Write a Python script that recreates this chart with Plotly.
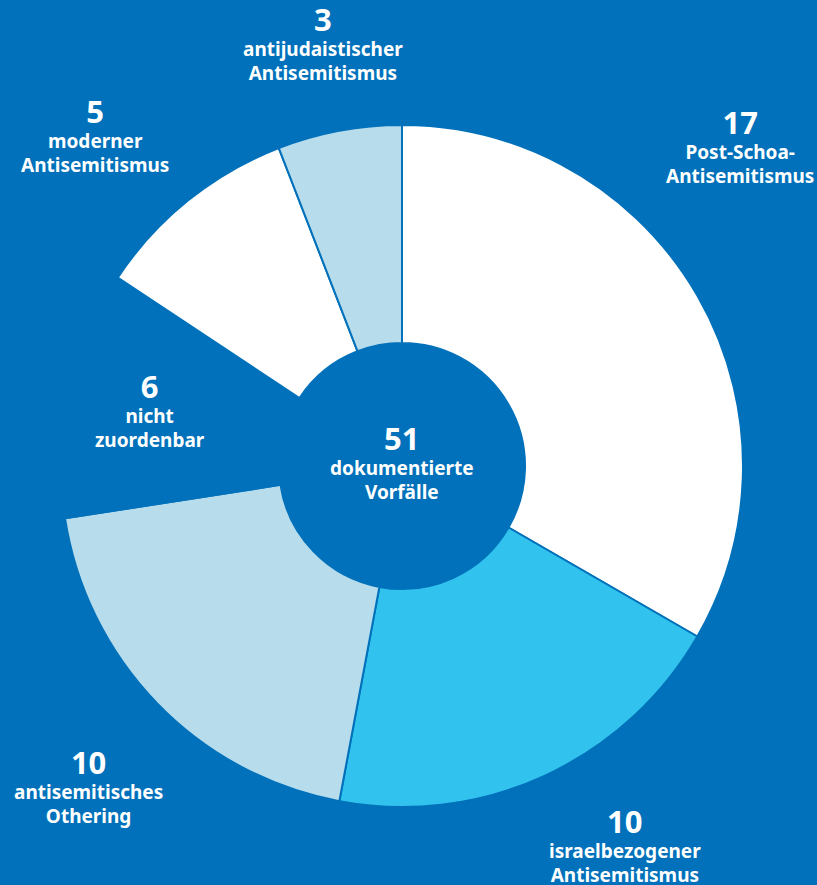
import plotly.graph_objects as go

categories = ["Post-Schoa-<br>Antisemitismus", "israelbezogener<br>Antisemitismus",
              "antisemitisches<br>Othering", "nicht<br>zuordenbar",
              "moderner<br>Antisemitismus", "antijudaistischer<br>Antisemitismus"]
values = [17, 10, 10, 6, 5, 3]
total_label = "dokumentierte<br>Vorfälle"

BG = "#0071ba"
colors = ["#ffffff", "#31c3ee", "#b7dcec", BG, "#ffffff", "#b7dcec"]

W, H = 817, 885
cx, cy, R, r_in = 402, 466, 341, 123

fig = go.Figure(go.Pie(
    values=values, labels=categories, sort=False, direction="clockwise",
    rotation=0, hole=r_in / R, textinfo="none", hoverinfo="skip",
    marker=dict(colors=colors, line=dict(color=BG, width=2)),
    domain=dict(x=[(cx - R) / W, (cx + R) / W],
                y=[(H - cy - R) / H, (H - cy + R) / H]),
    showlegend=False,
))

FONT = "Noto Sans"
# label anchor positions (pixel coords of number centre) for each category
label_pos = [(740, 124), (625, 823), (88, 764), (150, 388), (95, 113), (323, 21)]

def add_label(px, py, num, text):
    fig.add_annotation(x=px / W, y=1 - (py - 25) / H, xref="paper", yref="paper",
                       text=f"<b><span style='font-size:31px'>{num}</span><br>{text}</b>",
                       showarrow=False, xanchor="center", yanchor="top",
                       align="center",
                       font=dict(family=FONT, size=19, color="white"))

for (px, py), v, c in zip(label_pos, values, categories):
    add_label(px, py, v, c)

add_label(402, 440, sum(values), total_label)

fig.update_layout(width=W, height=H, margin=dict(l=0, r=0, t=0, b=0),
                  paper_bgcolor=BG, plot_bgcolor=BG)
fig.write_html("out.html", config={"displayModeBar": False},
               post_script="document.body.style.margin='0';")
